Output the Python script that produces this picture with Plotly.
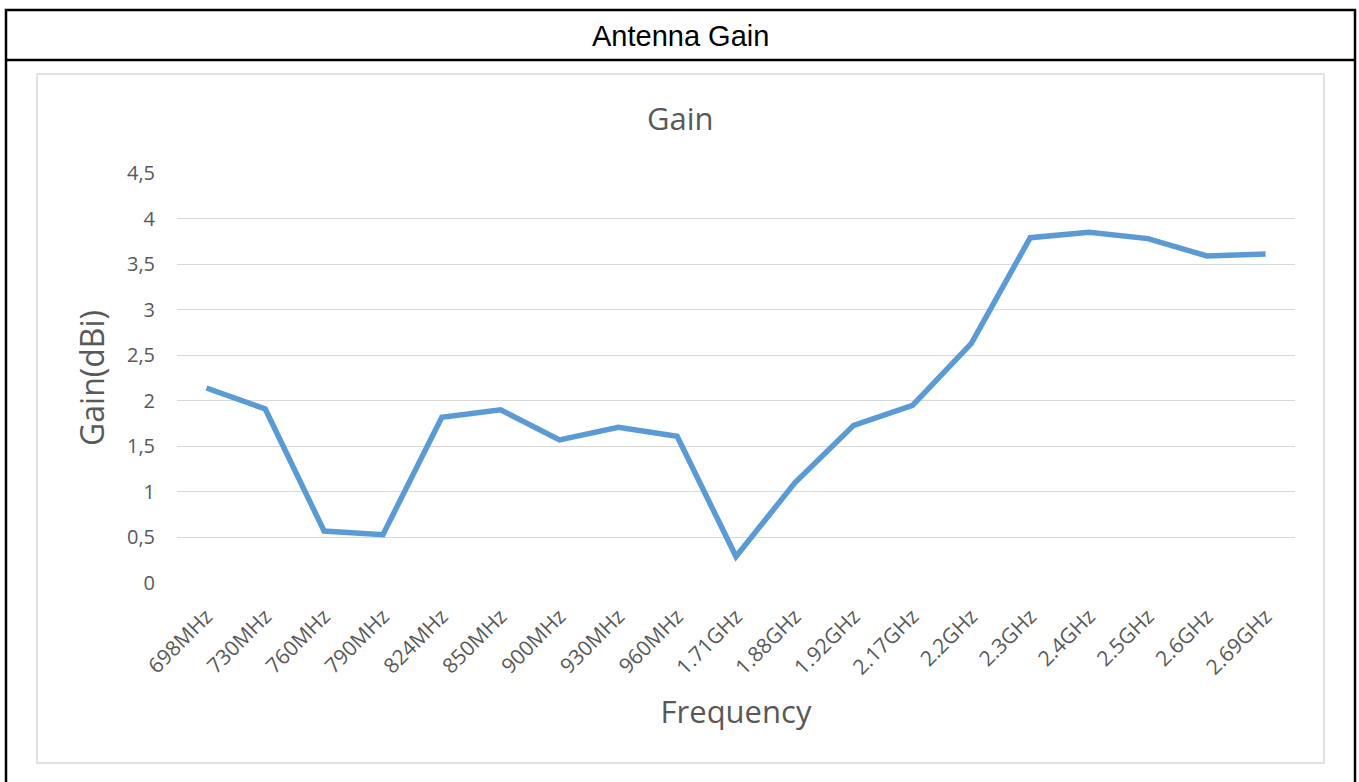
import plotly.graph_objects as go

categories = ["698MHz", "730MHz", "760MHz", "790MHz", "824MHz", "850MHz", "900MHz", "930MHz",
              "960MHz", "1.71GHz", "1.88GHz", "1.92GHz", "2.17GHz", "2.2GHz", "2.3GHz", "2.4GHz",
              "2.5GHz", "2.6GHz", "2.69GHz"]
gain = [2.14, 1.91, 0.57, 0.53, 1.82, 1.90, 1.57, 1.71, 1.61, 0.29, 1.10, 1.73, 1.95, 2.63,
        3.79, 3.85, 3.78, 3.59, 3.61]
y_ticks = [0, 0.5, 1, 1.5, 2, 2.5, 3, 3.5, 4, 4.5]

W, H = 1359, 782
L, R, T, B = 177, 1295, 173, 583


def px(x):
    return (x - L) / (R - L)


def py(y):
    return (B - y) / (B - T)


GRAY = "#595959"
FONT = "Open Sans"

fig = go.Figure()
fig.add_trace(go.Scatter(
    x=categories, y=gain, mode="lines",
    line=dict(color="#5b9bd5", width=5.5),
    hoverinfo="x+y", showlegend=False,
))

fig.update_layout(
    width=W, height=H,
    margin=dict(l=L, r=W - R, t=T, b=H - B, pad=0),
    paper_bgcolor="white", plot_bgcolor="white",
    separators=",.",
    font=dict(family=FONT, color=GRAY),
    showlegend=False,
    xaxis=dict(
        type="category", range=[-0.5, len(categories) - 0.5], tickangle=-45, showgrid=False,
        zeroline=False, showline=False, ticks="",
        tickfont=dict(size=21, color=GRAY, family=FONT),
        ticklabelstandoff=16,
        title=dict(text="Frequency", font=dict(size=31, color=GRAY, family=FONT), standoff=22),
    ),
    yaxis=dict(
        range=[0, 4.5], tickvals=y_ticks, showgrid=True, gridcolor="#d9d9d9", gridwidth=1.3,
        zeroline=False, showline=False, ticks="",
        tickfont=dict(size=20, color=GRAY, family=FONT), ticklabelstandoff=21,
        title=dict(text="Gain(dBi)", font=dict(size=32, color=GRAY, family=FONT), standoff=12),
    ),
    annotations=[
        dict(text="Antenna Gain", xref="paper", yref="paper", x=px(680), y=py(36),
             showarrow=False, font=dict(family="Liberation Sans, Arial", size=29, color="black"),
             xanchor="center", yanchor="middle"),
        dict(text="Gain", xref="paper", yref="paper", x=px(680), y=py(118),
             showarrow=False, font=dict(family=FONT, size=31, color=GRAY),
             xanchor="center", yanchor="middle"),
    ],
    shapes=[
        dict(type="rect", xref="paper", yref="paper", x0=px(6), x1=px(1355), y0=py(10), y1=py(800),
             line=dict(color="black", width=2.5), layer="below"),
        dict(type="line", xref="paper", yref="paper", x0=px(6), x1=px(1355), y0=py(60), y1=py(60),
             line=dict(color="black", width=2.5), layer="below"),
        dict(type="rect", xref="paper", yref="paper", x0=px(37), x1=px(1324), y0=py(74), y1=py(763),
             line=dict(color="#d9d9d9", width=1.5), layer="below"),
    ],
)

fig.write_html("out.html", config={"displayModeBar": False},
               post_script="document.body.style.margin='0';document.body.style.overflow='hidden';")
